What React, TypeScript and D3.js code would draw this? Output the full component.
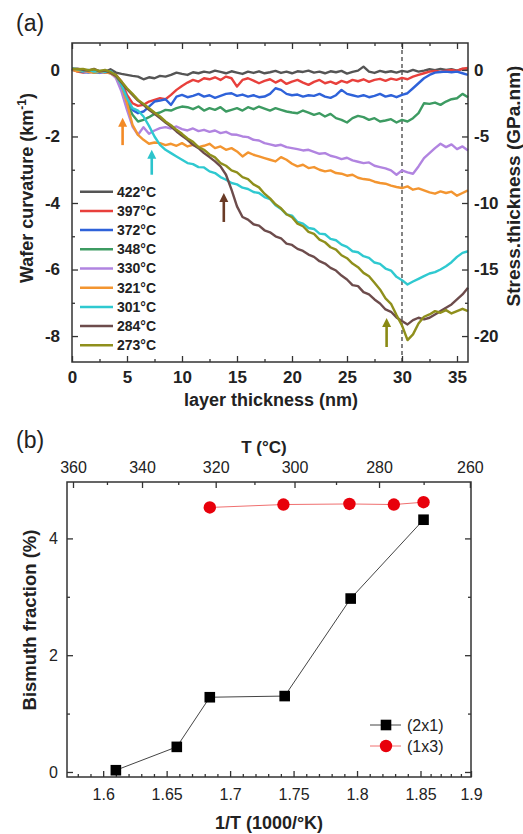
import { useEffect, useRef } from 'react';
import * as d3 from 'd3';

const FONT = '"Liberation Sans", Arial, Helvetica, sans-serif';

// ---------- panel (a): wafer curvature vs layer thickness ----------
// thickness grid (nm), one value every 0.5 nm
const thickness = d3.range(0, 36.01, 0.5);

const curve422 = [
  0.02, 0, -0.03, -0.05, -0.06, -0.04, -0.06, 0.02, -0.08, -0.12,
  -0.15, -0.18, -0.2, -0.28, -0.22, -0.25, -0.18, -0.2, -0.15, -0.08,
  -0.12, -0.15, -0.07, -0.1, -0.05, -0.08, -0.02, -0.06, -0.1, -0.04,
  -0.08, -0.12, -0.05, -0.09, -0.04, -0.1, -0.07, -0.03, -0.09, -0.05,
  -0.1, -0.04, -0.06, -0.02, -0.08, -0.05, -0.1, -0.04, -0.07, -0.03,
  -0.11, -0.06, -0.02, 0.1, -0.05, -0.09, -0.03, -0.07, -0.04, -0.08,
  -0.03, -0.06, 0, -0.05, -0.02, 0.02, -0.01, 0.03, 0, 0.02,
  -0.02, 0.03, 0.02,
];
const curve397 = [
  0.03, -0.05, -0.08, -0.04, -0.07, -0.05, -0.08, -0.06, -0.15, -0.35,
  -0.75, -1.0, -1.08, -1.05, -0.95, -0.9, -0.85, -0.88, -0.75, -0.6,
  -0.48, -0.38, -0.3, -0.35, -0.25, -0.28, -0.22, -0.3, -0.2, -0.25,
  -0.5, -0.3, -0.25, -0.32, -0.4, -0.33, -0.28, -0.38, -0.3, -0.42,
  -0.35, -0.3, -0.38, -0.45, -0.36, -0.3, -0.4, -0.35, -0.42, -0.33,
  -0.38, -0.3, -0.34, -0.28, -0.36, -0.3, -0.27, -0.33, -0.26, -0.3,
  -0.24, -0.28, -0.2, -0.15, -0.1, -0.05, -0.03, -0.06, -0.02, 0,
  -0.03, 0.04, 0.06,
];
const curve372 = [
  0, -0.03, -0.06, -0.08, -0.05, -0.09, -0.06, -0.1, -0.2, -0.45,
  -0.85, -1.2, -1.3, -1.25, -1.1, -0.95, -0.92, -0.88, -1.05, -0.8,
  -0.75, -0.82, -0.78, -0.72, -0.8, -0.76, -0.84, -0.78, -0.72, -0.7,
  -0.78, -0.74, -0.8, -0.76, -0.82, -0.8, -0.72, -0.55, -0.6, -0.72,
  -0.76, -0.74, -0.8, -0.76, -0.78, -0.72, -0.8, -0.84, -0.76, -0.6,
  -0.72, -0.76, -0.8, -0.76, -0.82, -0.78, -0.72, -0.8, -0.76, -0.82,
  -0.75, -0.7, -0.55, -0.4, -0.25, -0.15, -0.08, -0.06, -0.05, -0.07,
  -0.05, -0.1, -0.15,
];
const curve348 = [
  0.02, -0.02, -0.05, -0.03, -0.08, -0.06, -0.04, -0.08, -0.22, -0.55,
  -1.0, -1.35, -1.55, -1.5, -1.42, -1.32, -1.28, -1.2, -1.22, -1.15,
  -1.1, -1.12, -1.18, -1.1, -1.22, -1.15, -1.2, -1.12, -1.25, -1.2,
  -1.15, -1.22, -1.12, -1.18, -1.1, -1.16, -1.22, -1.15, -1.2, -1.25,
  -1.28, -1.3, -1.22, -1.28, -1.35, -1.3, -1.4, -1.32, -1.45, -1.5,
  -1.58, -1.45, -1.38, -1.42, -1.5, -1.45, -1.55, -1.52, -1.48, -1.58,
  -1.5, -1.55, -1.45, -1.3, -1.0, -1.02, -0.98, -1.05, -0.95, -0.88,
  -0.85, -0.72, -0.82,
];
const curve330 = [
  0.04, 0, -0.04, -0.06, -0.03, -0.07, -0.05, -0.09, -0.25, -0.65,
  -1.2, -1.7, -1.95, -1.72, -1.92, -1.82, -1.75, -1.72, -1.76, -1.7,
  -1.78, -1.82, -1.76, -1.84, -1.8, -1.86, -1.82, -1.9, -1.86, -1.94,
  -1.95, -2.0, -2.02, -2.1, -2.12, -2.2, -2.24, -2.28, -2.25, -2.32,
  -2.35, -2.38, -2.42, -2.4, -2.46, -2.52, -2.5, -2.58, -2.62, -2.68,
  -2.64, -2.72, -2.76, -2.8, -2.78, -2.88, -2.92, -2.96, -3.02, -3.15,
  -3.02, -3.08, -3.12, -2.9, -2.65, -2.5, -2.35, -2.22, -2.32, -2.24,
  -2.38, -2.3, -2.42,
];
const curve321 = [
  0, -0.04, -0.02, -0.06, -0.08, -0.05, -0.07, -0.1, -0.2, -0.45,
  -1.0, -1.65, -1.95, -2.1, -2.22, -2.18, -2.2, -2.26, -2.22, -2.28,
  -2.2, -2.3, -2.25, -2.32, -2.28, -2.22, -2.35, -2.3, -2.4, -2.35,
  -2.45, -2.6, -2.48, -2.55, -2.6, -2.65, -2.7, -2.75, -2.62, -2.7,
  -2.82, -2.9, -2.85, -2.95, -2.92, -3.0, -3.05, -3.02, -3.1, -3.12,
  -3.18, -3.15, -3.24, -3.28, -3.3, -3.36, -3.4, -3.42, -3.48, -3.52,
  -3.55, -3.5, -3.6, -3.56, -3.62, -3.68, -3.72, -3.65, -3.7, -3.66,
  -3.78, -3.7, -3.62,
];
const curve301 = [
  0.05, 0.02, -0.03, 0, -0.05, -0.03, -0.06, -0.04, -0.18, -0.45,
  -0.85, -1.15, -1.22, -1.4, -1.68, -2.0, -2.25, -2.4, -2.5, -2.6,
  -2.7, -2.8, -2.83, -2.92, -2.93, -3.05, -3.1, -3.22, -3.3, -3.4,
  -3.44, -3.54, -3.58, -3.67, -3.7, -3.82, -3.88, -4.07, -4.18, -4.34,
  -4.38, -4.57, -4.62, -4.75, -4.78, -4.92, -4.94, -5.08, -5.12, -5.25,
  -5.32, -5.45, -5.48, -5.6, -5.65, -5.79, -5.83, -5.97, -6.03, -6.22,
  -6.32, -6.45, -6.36, -6.28, -6.2, -6.12, -6.08, -6.0, -5.9, -5.78,
  -5.62, -5.5, -5.45,
];
const curve284 = [
  0.02, 0.04, 0, -0.02, 0.03, -0.04, -0.02, -0.08, -0.18, -0.38,
  -0.58, -0.75, -0.92, -1.05, -1.2, -1.32, -1.45, -1.58, -1.7, -1.85,
  -1.98, -2.1, -2.25, -2.35, -2.5, -2.62, -2.75, -2.9, -3.15, -3.6,
  -4.1, -4.42, -4.5, -4.64, -4.68, -4.82, -4.88, -5.0, -5.06, -5.22,
  -5.26, -5.38, -5.44, -5.55, -5.62, -5.75, -5.82, -5.95, -6.03, -6.18,
  -6.3, -6.47, -6.5, -6.68, -6.75, -6.9, -7.02, -7.2, -7.27, -7.44,
  -7.55, -7.65, -7.52, -7.45, -7.5, -7.45, -7.35, -7.25, -7.15, -7.05,
  -6.9, -6.75, -6.55,
];
const curve273 = [
  0.04, 0.02, 0.03, -0.01, 0.02, -0.03, 0, -0.06, -0.15, -0.35,
  -0.55, -0.72, -0.9, -1.02, -1.15, -1.28, -1.4, -1.55, -1.66, -1.8,
  -1.92, -2.06, -2.16, -2.32, -2.4, -2.54, -2.63, -2.8, -2.88, -3.02,
  -3.08, -3.22, -3.28, -3.44, -3.53, -3.72, -3.86, -4.04, -4.16, -4.34,
  -4.43, -4.62, -4.7, -4.87, -4.93, -5.1, -5.18, -5.33, -5.4, -5.57,
  -5.66, -5.82, -5.93, -6.1, -6.2, -6.4, -6.6, -6.87, -7.03, -7.37,
  -7.68, -8.12, -7.95, -7.62, -7.42, -7.35, -7.25, -7.3, -7.22, -7.32,
  -7.25, -7.18, -7.25,
];

const curveLabels = ['422°C', '397°C', '372°C', '348°C', '330°C', '321°C', '301°C', '284°C', '273°C'];
const curveColors = ['#555555', '#e8403c', '#2e62d9', '#3d9b62', '#b184e0', '#f39530', '#2fc9d0', '#6d4c4c', '#8f8f1c'];
const curves = [curve422, curve397, curve372, curve348, curve330, curve321, curve301, curve284, curve273];

// arrows marking the transitions (thickness, tip and tail curvature)
const arrowThickness = [4.6, 7.25, 13.8, 28.6];
const arrowTip = [-1.44, -2.4, -3.7, -7.46];
const arrowTail = [-2.26, -3.15, -4.57, -8.33];
const arrowColors = ['#f38a26', '#2cc4cc', '#6a3b26', '#8a8a14'];

// ---------- panel (b): bismuth fraction vs 1/T ----------
const invT2x1 = [1.61, 1.658, 1.684, 1.743, 1.795, 1.853];
const frac2x1 = [0.03, 0.43, 1.28, 1.3, 2.97, 4.32];
const invT1x3 = [1.684, 1.742, 1.794, 1.829, 1.853];
const frac1x3 = [4.53, 4.58, 4.59, 4.58, 4.62];

const invTTicks = [1.6, 1.65, 1.7, 1.75, 1.8, 1.85, 1.9];
const tempTicks = [360, 340, 320, 300, 280, 260];
const tempMinorTicks = [350, 330, 310, 290, 270];

const App = () => {
  const svgRef = useRef<SVGSVGElement>(null);

  useEffect(() => {
    const svg = d3.select(svgRef.current);
    svg.selectAll('*').remove();
    svg.attr('width', 523).attr('height', 834).style('font-family', FONT);
    svg.append('rect').attr('width', 523).attr('height', 834).attr('fill', '#fff');

    const styleAxis = (g, size, weight) => {
      g.select('.domain').remove();
      g.selectAll('line').attr('stroke', '#333').attr('stroke-width', 1.3);
      g.selectAll('text')
        .attr('font-family', FONT)
        .attr('font-size', size)
        .attr('font-weight', weight)
        .attr('fill', '#222');
      return g;
    };
    const addAxis = (axis, tx, ty, size = 17, weight = 'bold') =>
      styleAxis(svg.append('g').attr('transform', `translate(${tx},${ty})`).call(axis), size, weight);
    const noLabel = () => '';

    // ================= panel (a) =================
    const a = { left: 72, right: 468, top: 43, bottom: 362 };
    const xA = d3.scaleLinear().domain([0, 36]).range([a.left, a.right]);
    const yA = d3.scaleLinear().domain([-8.78, 0.81]).range([a.bottom, a.top]);
    const yS = d3.scaleLinear().domain([-8.78 * 2.5, 0.81 * 2.5]).range([a.bottom, a.top]);

    const majX = [0, 5, 10, 15, 20, 25, 30, 35];
    const minX = [2.5, 7.5, 12.5, 17.5, 22.5, 27.5, 32.5];
    addAxis(d3.axisBottom(xA).tickValues(majX).tickSize(-6).tickPadding(9).tickFormat(d => String(d)), 0, a.bottom);
    addAxis(d3.axisBottom(xA).tickValues(minX).tickSize(-3).tickFormat(noLabel), 0, a.bottom);
    addAxis(d3.axisTop(xA).tickValues(majX).tickSize(-6).tickFormat(noLabel), 0, a.top);
    addAxis(d3.axisTop(xA).tickValues(minX).tickSize(-3).tickFormat(noLabel), 0, a.top);
    addAxis(d3.axisLeft(yA).tickValues([0, -2, -4, -6, -8]).tickSize(-6).tickPadding(12).tickFormat(d => String(d)), a.left, 0);
    addAxis(d3.axisLeft(yA).tickValues([-1, -3, -5, -7]).tickSize(-3).tickFormat(noLabel), a.left, 0);
    addAxis(d3.axisRight(yS).tickValues([0, -5, -10, -15, -20]).tickSize(-6).tickPadding(6).tickFormat(d => String(d)), a.right, 0);
    addAxis(d3.axisRight(yS).tickValues([-2.5, -7.5, -12.5, -17.5]).tickSize(-3).tickFormat(noLabel), a.right, 0);

    // dashed marker at 30 nm
    svg.append('line')
      .attr('x1', xA(30)).attr('x2', xA(30))
      .attr('y1', a.top).attr('y2', a.bottom)
      .attr('stroke', '#333').attr('stroke-width', 1.2)
      .attr('stroke-dasharray', '4,3');

    const curveLine = d3.line<number>()
      .x((_, i) => xA(thickness[i]))
      .y(d => yA(d));

    curves.forEach((values, i) => {
      svg.append('path')
        .datum(values)
        .attr('d', curveLine)
        .attr('fill', 'none')
        .attr('stroke', curveColors[i])
        .attr('stroke-width', 2.4)
        .attr('stroke-linejoin', 'round');
    });

    // arrows
    arrowThickness.forEach((t, i) => {
      const x = xA(t);
      const yTip = yA(arrowTip[i]);
      const yTail = yA(arrowTail[i]);
      svg.append('line')
        .attr('x1', x).attr('x2', x)
        .attr('y1', yTail).attr('y2', yTip + 8)
        .attr('stroke', arrowColors[i]).attr('stroke-width', 2.6);
      svg.append('path')
        .attr('d', `M${x},${yTip} L${x - 4.5},${yTip + 9} L${x + 4.5},${yTip + 9} Z`)
        .attr('fill', arrowColors[i]);
    });

    // legend
    curveLabels.forEach((label, i) => {
      const y = 191.7 + i * 19.2;
      svg.append('line')
        .attr('x1', 80).attr('x2', 113)
        .attr('y1', y).attr('y2', y)
        .attr('stroke', curveColors[i]).attr('stroke-width', 2.5);
      svg.append('text')
        .attr('x', 117).attr('y', y).attr('dy', '0.35em')
        .attr('font-size', 14).attr('font-weight', 'bold').attr('fill', '#222')
        .text(label);
    });

    svg.append('rect')
      .attr('x', a.left).attr('y', a.top)
      .attr('width', a.right - a.left).attr('height', a.bottom - a.top)
      .attr('fill', 'none').attr('stroke', '#333').attr('stroke-width', 1.5);

    // titles (a)
    const leftTitle = svg.append('text')
      .attr('transform', 'translate(27,188) rotate(-90)')
      .attr('dy', '0.35em')
      .attr('text-anchor', 'middle')
      .attr('font-size', 18).attr('font-weight', 'bold').attr('fill', '#222');
    leftTitle.append('tspan').text('Wafer curvature (km');
    leftTitle.append('tspan').attr('dy', -7).attr('font-size', 12).text('-1');
    leftTitle.append('tspan').attr('dy', 7).text(')');

    svg.append('text')
      .attr('transform', 'translate(513,186) rotate(-90)')
      .attr('dy', '0.35em')
      .attr('text-anchor', 'middle')
      .attr('font-size', 19).attr('font-weight', 'bold').attr('fill', '#222')
      .text('Stress.thickness (GPa.nm)');

    svg.append('text')
      .attr('x', 271).attr('y', 406)
      .attr('text-anchor', 'middle')
      .attr('font-size', 18).attr('font-weight', 'bold').attr('fill', '#222')
      .text('layer thickness (nm)');

    svg.append('text')
      .attr('x', 16).attr('y', 31)
      .attr('font-size', 23).attr('fill', '#222')
      .text('(a)');

    // ================= panel (b) =================
    const b = { left: 67, right: 471, top: 482, bottom: 777 };
    const xB = d3.scaleLinear().domain([1.5715, 1.85, 1.9]).range([b.left, 420.5, b.right]);
    const xT = d3.scaleLinear().domain([1.5753, 1.877]).range([b.left, b.right]);
    const yB = d3.scaleLinear().domain([-0.086, 4.966]).range([b.bottom, b.top]);
    const toInv = t => 1000 / (t + 273);

    const minorInv = d3.range(1.58, 1.9, 0.01).filter(v => Math.abs(v * 20 - Math.round(v * 20)) > 0.01);
    addAxis(d3.axisBottom(xB).tickValues(invTTicks).tickSize(-6).tickPadding(11.5).tickFormat(d => String(d)), 0, b.bottom, 16, 'normal');
    addAxis(d3.axisBottom(xB).tickValues(minorInv).tickSize(-3).tickFormat(noLabel), 0, b.bottom);
    addAxis(d3.axisTop(xT).tickValues(tempTicks.map(toInv)).tickSize(-6).tickPadding(9).tickFormat((_, i) => String(tempTicks[i])), 0, b.top, 16, 'normal');
    addAxis(d3.axisTop(xT).tickValues(tempMinorTicks.map(toInv)).tickSize(-3).tickFormat(noLabel), 0, b.top);
    addAxis(d3.axisLeft(yB).tickValues([0, 2, 4]).tickSize(-6).tickPadding(9).tickFormat(d => String(d)), b.left, 0, 16, 'normal');
    addAxis(d3.axisLeft(yB).tickValues([1, 3]).tickSize(-3).tickFormat(noLabel), b.left, 0);
    addAxis(d3.axisRight(yB).tickValues([0, 2, 4]).tickSize(-6).tickFormat(noLabel), b.right, 0);
    addAxis(d3.axisRight(yB).tickValues([1, 3]).tickSize(-3).tickFormat(noLabel), b.right, 0);

    svg.append('rect')
      .attr('x', b.left).attr('y', b.top)
      .attr('width', b.right - b.left).attr('height', b.bottom - b.top)
      .attr('fill', 'none').attr('stroke', '#333').attr('stroke-width', 1.5);

    const pts2x1 = invT2x1.map((v, i) => [xB(v), yB(frac2x1[i])]);
    const pts1x3 = invT1x3.map((v, i) => [xB(v), yB(frac1x3[i])]);

    svg.append('path')
      .attr('d', d3.line()(pts1x3))
      .attr('fill', 'none').attr('stroke', '#f07070').attr('stroke-width', 1);
    svg.append('path')
      .attr('d', d3.line()(pts2x1))
      .attr('fill', 'none').attr('stroke', '#444').attr('stroke-width', 1);

    svg.selectAll('.sq')
      .data(pts2x1)
      .enter()
      .append('rect')
      .attr('x', d => d[0] - 5.3).attr('y', d => d[1] - 5.3)
      .attr('width', 10.6).attr('height', 10.6)
      .attr('fill', '#000');
    svg.selectAll('.dot')
      .data(pts1x3)
      .enter()
      .append('circle')
      .attr('cx', d => d[0]).attr('cy', d => d[1])
      .attr('r', 6.2)
      .attr('fill', '#e8000b');

    // legend (b)
    svg.append('line').attr('x1', 370).attr('x2', 401).attr('y1', 725).attr('y2', 725)
      .attr('stroke', '#444').attr('stroke-width', 1);
    svg.append('rect').attr('x', 386 - 5.3).attr('y', 725 - 5.3).attr('width', 10.6).attr('height', 10.6)
      .attr('fill', '#000');
    svg.append('line').attr('x1', 370).attr('x2', 401).attr('y1', 746).attr('y2', 746)
      .attr('stroke', '#f07070').attr('stroke-width', 1);
    svg.append('circle').attr('cx', 386).attr('cy', 746).attr('r', 6.2).attr('fill', '#e8000b');
    svg.append('text').attr('x', 407).attr('y', 725).attr('dy', '0.35em')
      .attr('font-size', 16).attr('fill', '#222').text('(2x1)');
    svg.append('text').attr('x', 407).attr('y', 746).attr('dy', '0.35em')
      .attr('font-size', 16).attr('fill', '#222').text('(1x3)');

    // titles (b)
    svg.append('text')
      .attr('x', 264).attr('y', 453)
      .attr('text-anchor', 'middle')
      .attr('font-size', 17).attr('font-weight', 'bold').attr('fill', '#222')
      .text('T (°C)');
    svg.append('text')
      .attr('transform', 'translate(30,620) rotate(-90)')
      .attr('dy', '0.35em')
      .attr('text-anchor', 'middle')
      .attr('font-size', 18.5).attr('font-weight', 'bold').attr('fill', '#222')
      .text('Bismuth fraction (%)');
    svg.append('text')
      .attr('x', 269).attr('y', 829)
      .attr('text-anchor', 'middle')
      .attr('font-size', 18).attr('font-weight', 'bold').attr('fill', '#222')
      .text('1/T (1000/°K)');
    svg.append('text')
      .attr('x', 16).attr('y', 448)
      .attr('font-size', 23).attr('fill', '#222')
      .text('(b)');
  }, []);

  return (
    <div style={{ position: 'absolute', left: 0, top: 0 }}>
      <svg ref={svgRef}></svg>
    </div>
  );
};

export default App;
